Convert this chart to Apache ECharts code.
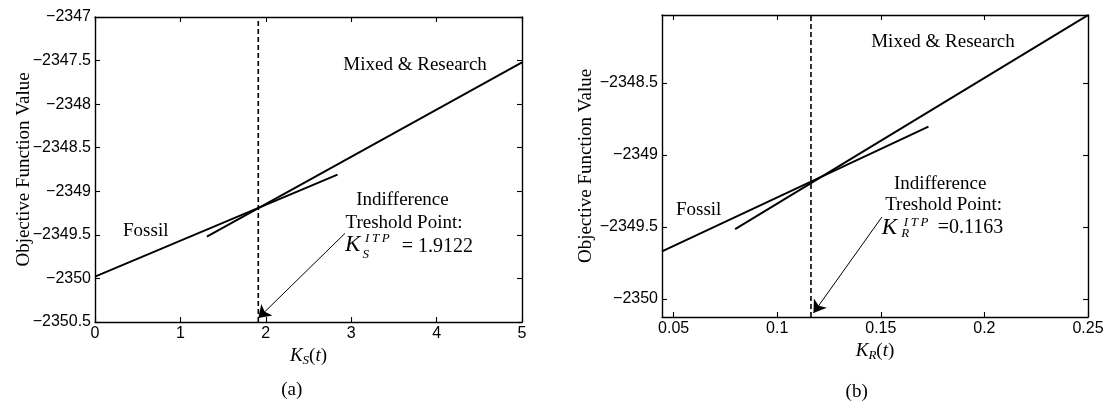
<!DOCTYPE html>
<html>
<head>
<meta charset="utf-8">
<script src="https://cdn.jsdelivr.net/npm/echarts@6/dist/echarts.min.js"></script>
<style>
  html, body { margin: 0; padding: 0; background: #fff; }
  #chart { width: 1111px; height: 405px; }
</style>
</head>
<body>
<div id="chart"></div>
<script>
// ---- Panel (a): objective value against K_S(t) ----
const ksTicks = [0, 1, 2, 3, 4, 5];
const objTicksA = [-2350.5, -2350, -2349.5, -2349, -2348.5, -2348, -2347.5, -2347];
const ksRange = [0, 5];
const objRangeA = [-2350.5, -2347];
const fossilA = [[0, -2349.98], [2.84, -2348.81]];
const mixedA = [[1.31, -2349.52], [5, -2347.52]];
const itpA = 1.9122;
const arrowA = [[2.927, -2349.483], [1.9122, -2350.455]];

// ---- Panel (b): objective value against K_R(t) ----
const krTicks = [0.05, 0.1, 0.15, 0.2, 0.25];
const objTicksB = [-2350, -2349.5, -2349, -2348.5];
const krRange = [0.0444, 0.25];
const objRangeB = [-2350.125, -2348.03];
const fossilB = [[0.0444, -2349.67], [0.173, -2348.805]];
const mixedB = [[0.0797, -2349.515], [0.25, -2348.031]];
const itpB = 0.1163;
const arrowB = [[0.1505, -2349.432], [0.1175, -2350.097]];

const SERIF = '"Liberation Serif", "Times New Roman", serif';
const SANS = '"Liberation Sans", Arial, sans-serif';
const minus = v => String(v).replace('-', '\u2212');

const chart = echarts.init(document.getElementById('chart'), null, { renderer: 'canvas' });

function axisPair(kind, gridIndex, range, ticks, extra) {
  const base = {
    type: 'value', gridIndex, min: range[0], max: range[1], scale: true,
    axisLine: { show: true, onZero: false, lineStyle: { color: '#000', width: 1.4 } },
    axisTick: { show: true, inside: true, length: 5, customValues: ticks, lineStyle: { color: '#000', width: 1.1 } },
    splitLine: { show: false }
  };
  const main = Object.assign({}, base, {
    position: kind === 'x' ? 'bottom' : 'left',
    axisLabel: {
      show: true, customValues: ticks, formatter: minus, color: '#000',
      fontFamily: SANS, fontSize: 16, margin: 4
    }
  }, extra);
  const mirror = Object.assign({}, base, {
    position: kind === 'x' ? 'top' : 'right',
    axisLabel: { show: false }
  });
  return [main, mirror];
}

const kRich = () => ({
  k: { fontFamily: SERIF, fontStyle: 'italic', fontSize: 19, color: '#000' },
  s: { fontFamily: SERIF, fontStyle: 'italic', fontSize: 13, color: '#000', padding: [9, 0, 0, 0] },
  p: { fontFamily: SERIF, fontSize: 19, color: '#000' }
});

const yName = {
  name: 'Objective Function Value', nameLocation: 'middle', nameMoveOverlap: false,
  nameTextStyle: { fontFamily: SERIF, fontSize: 19, color: '#000' }
};

const xA = axisPair('x', 0, ksRange, ksTicks, {
  name: '{k|K}{s|S}{p|(}{k|t}{p|)}', nameLocation: 'middle', nameGap: 22,
  nameTextStyle: { rich: kRich() }
});
const xB = axisPair('x', 1, krRange, krTicks, {
  name: '{k|K}{s|R}{p|(}{k|t}{p|)}', nameLocation: 'middle', nameGap: 16,
  nameTextStyle: { rich: kRich() }
});
const yA = axisPair('y', 0, objRangeA, objTicksA, Object.assign({ nameGap: 61 }, yName));
const yB = axisPair('y', 1, objRangeB, objTicksB, Object.assign({ nameGap: 66 }, yName));

const solid = { color: '#000', width: 1.9 };

function lineSeries(data, xi, yi, style) {
  return {
    type: 'line', xAxisIndex: xi, yAxisIndex: yi, data, symbol: 'none',
    lineStyle: style, silent: true, animation: false, clip: true
  };
}

function arrowMark(pts) {
  return {
    silent: true, animation: false,
    symbol: ['none', 'arrow'], symbolSize: 12,
    label: { show: false },
    lineStyle: { color: '#000', width: 1, type: 'solid' },
    data: [[{ coord: pts[0] }, { coord: pts[1] }]]
  };
}

const dashed = { color: '#000', width: 1.6, type: [5, 3] };

const series = [
  lineSeries(fossilA, 0, 0, solid),
  lineSeries(mixedA, 0, 0, solid),
  lineSeries([[itpA, objRangeA[0]], [itpA, objRangeA[1]]], 0, 0, dashed),
  Object.assign(lineSeries([], 0, 0, solid), { markLine: arrowMark(arrowA) }),
  lineSeries(fossilB, 2, 2, solid),
  lineSeries(mixedB, 2, 2, solid),
  lineSeries([[itpB, objRangeB[0]], [itpB, objRangeB[1]]], 2, 2, dashed),
  Object.assign(lineSeries([], 2, 2, solid), { markLine: arrowMark(arrowB) })
];

chart.setOption({
  animation: false,
  backgroundColor: '#fff',
  grid: [
    { left: 95, top: 17, width: 427, height: 305 },
    { left: 662, top: 15, width: 426, height: 302 }
  ],
  xAxis: [xA[0], xA[1], xB[0], xB[1]],
  yAxis: [yA[0], yA[1], yB[0], yB[1]],
  series
});

// ---- Text annotations, anchored in data coordinates ----
const px = (seriesIndex, pt) => chart.convertToPixel({ seriesIndex }, pt);

function txt(x, y, text, font, align) {
  return {
    type: 'text', x, y, silent: true,
    style: { text, font, fill: '#000', align: align || 'center', verticalAlign: 'middle',
             textAlign: align || 'center', textVerticalAlign: 'middle' }
  };
}

const F19 = '19px ' + SERIF;
const FK = 'italic 23px ' + SERIF;
const FSC = 'italic 13px ' + SERIF;
const FNUM = '20px ' + SERIF;

function itpBlock(tail, sub, value, o) {
  const [x, y] = tail;
  return [
    txt(x + o.l1[0], y + o.l1[1], 'Indifference', F19),
    txt(x + o.l2[0], y + o.l2[1], 'Treshold Point:', F19),
    txt(x, y + o.k, 'K', FK, 'left'),
    txt(x + o.sup[0], y + o.sup[1], 'I\u2009T\u2009P', FSC, 'left'),
    txt(x + o.sub[0], y + o.sub[1], sub, FSC, 'left'),
    txt(x + o.val[0], y + o.val[1], value, FNUM, 'left')
  ];
}

const tailA = px(0, arrowA[0]);
const tailB = px(4, arrowB[0]);
const mixA = px(0, [3.748, -2347.553]);
const fosA = px(0, [0.594, -2349.453]);
const mixB = px(4, [0.180, -2348.216]);
const fosB = px(4, [0.0621, -2349.382]);

const graphic = [
  txt(mixA[0], mixA[1], 'Mixed & Research', F19),
  txt(fosA[0], fosA[1], 'Fossil', F19),
  txt(mixB[0], mixB[1], 'Mixed & Research', F19),
  txt(fosB[0], fosB[1], 'Fossil', F19),
  ...itpBlock(tailA, 'S', '= 1.9122', {
    l1: [57.5, -33.3], l2: [59, -10.6], k: 11.7, sup: [20, 5], sub: [17.5, 21], val: [56.7, 13.7]
  }),
  ...itpBlock(tailB, 'R', '=0.1163', {
    l1: [58.3, -33.3], l2: [61.8, -11.6], k: 10.7, sup: [22, 5.4], sub: [19.5, 16.7], val: [56, 10.7]
  }),
  txt(291.7, 390, '(a)', F19),
  txt(856.7, 391.7, '(b)', F19)
];

chart.setOption({ graphic });
</script>
</body>
</html>
